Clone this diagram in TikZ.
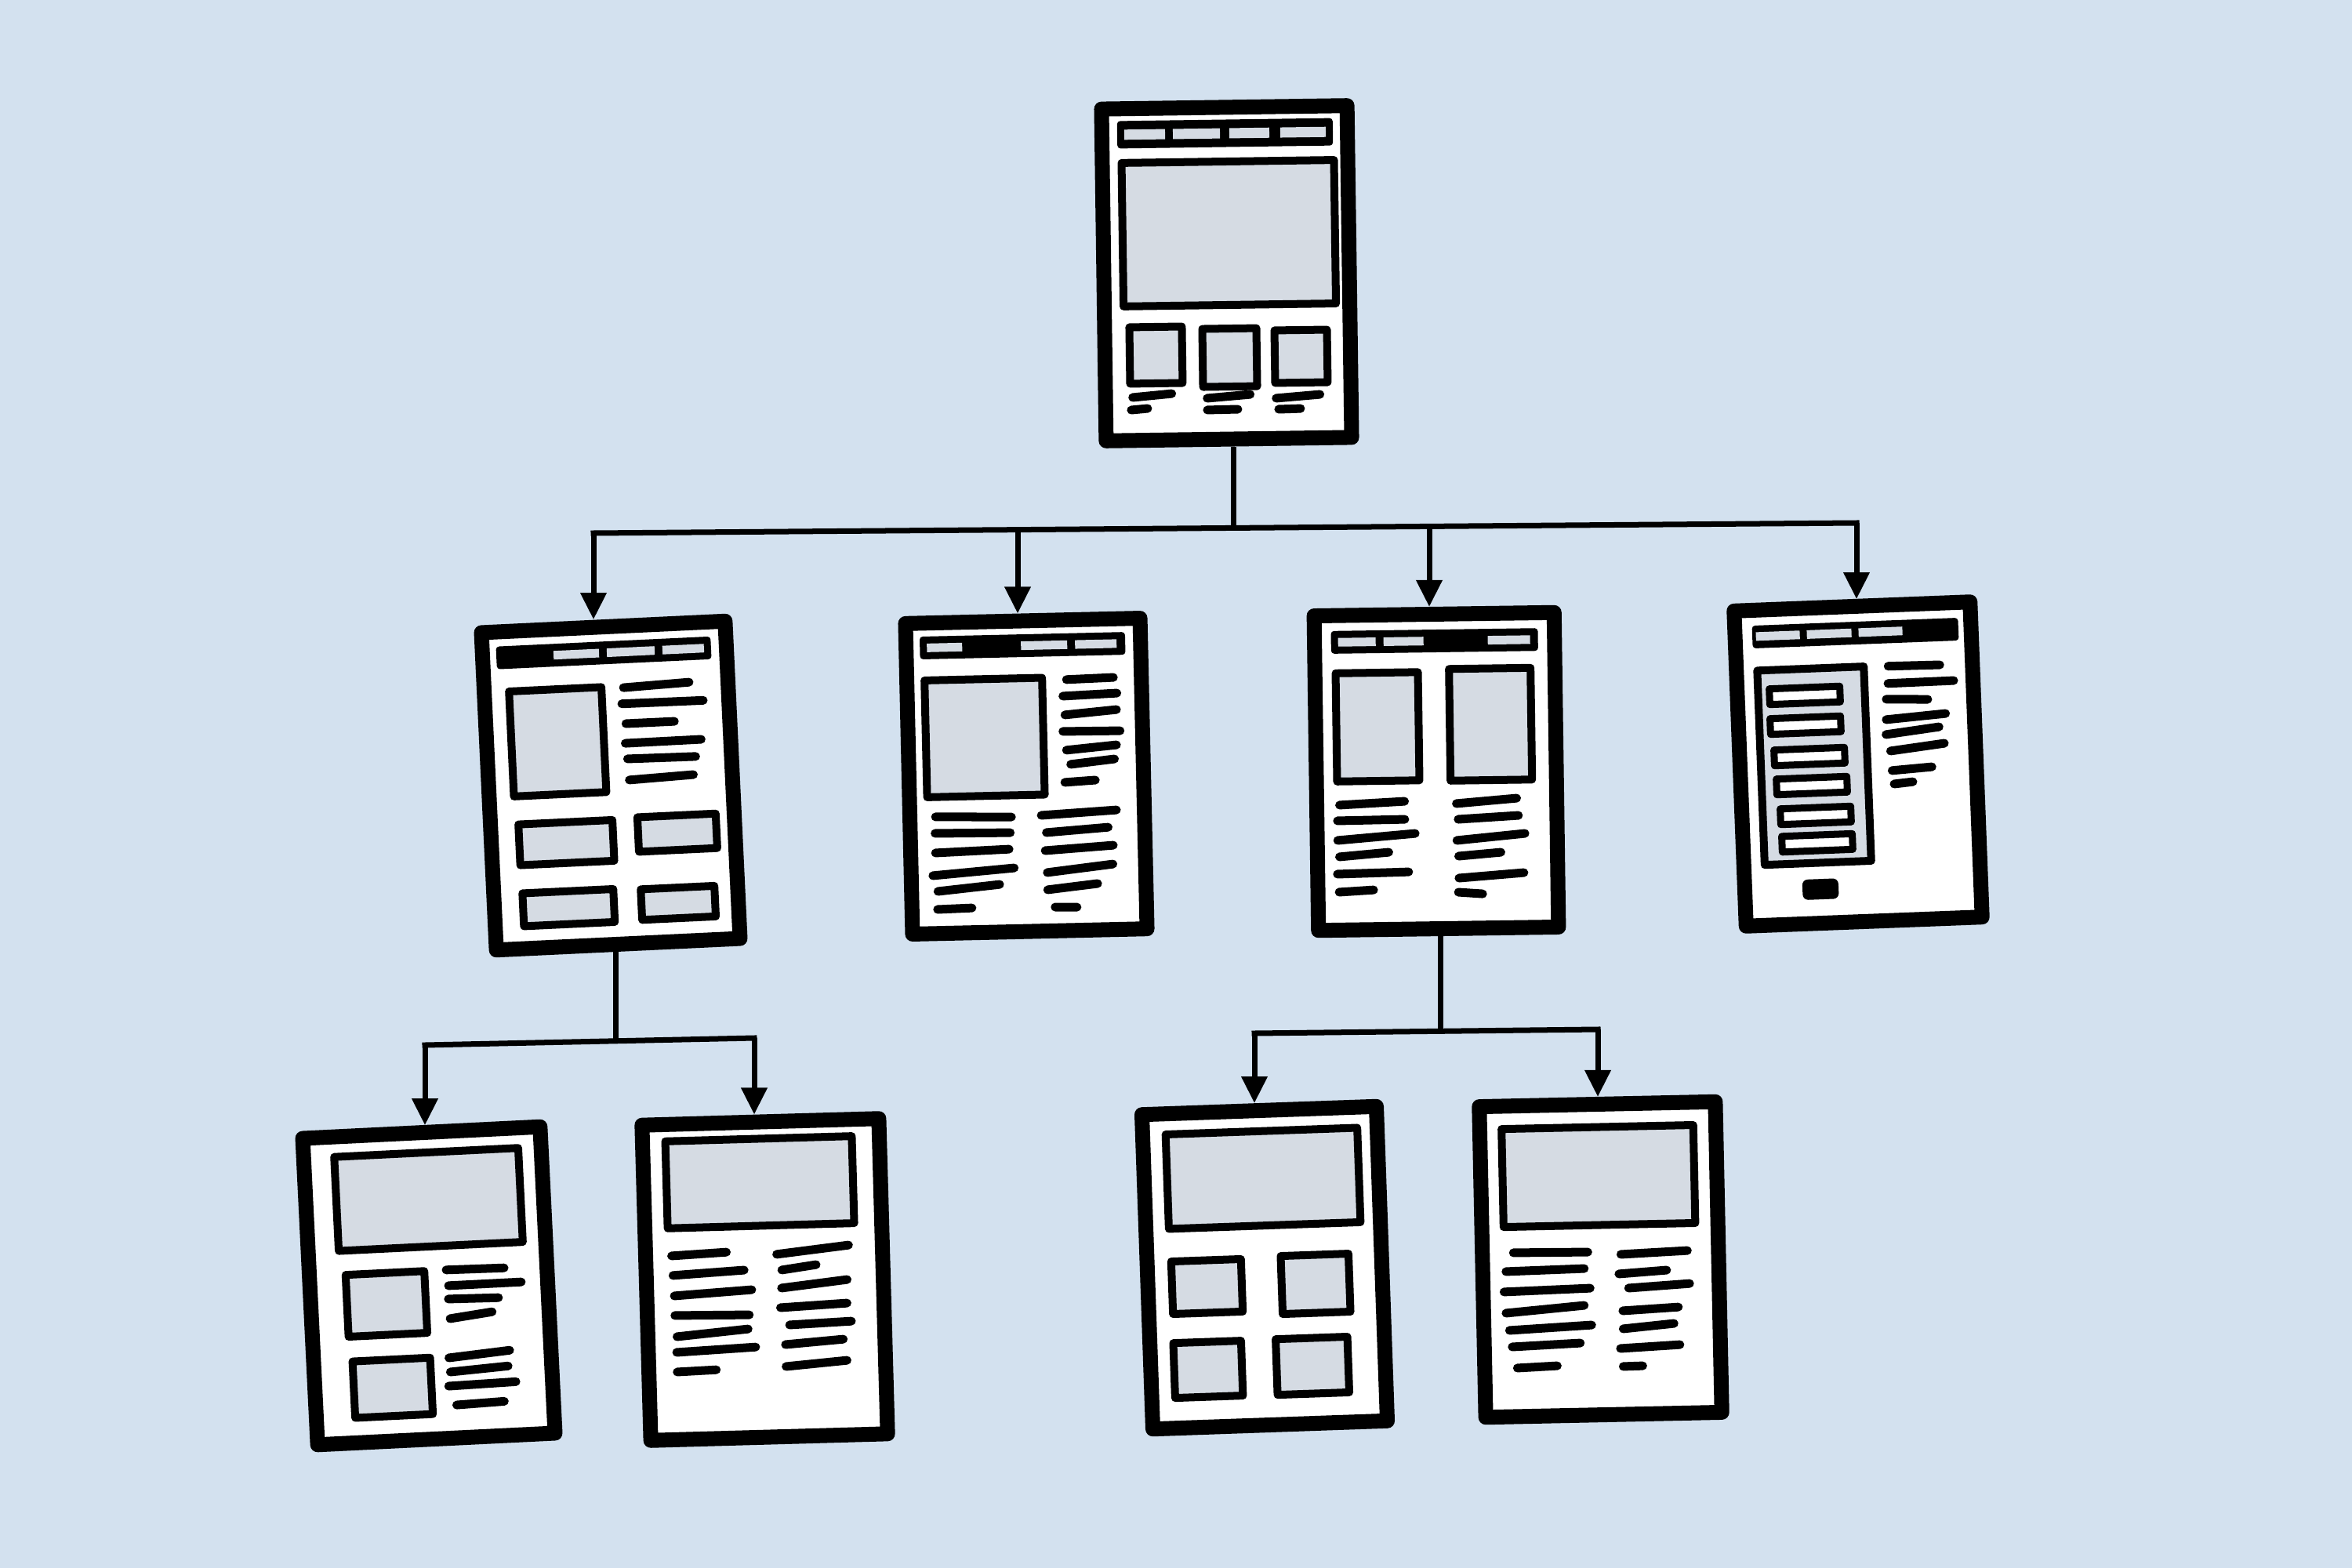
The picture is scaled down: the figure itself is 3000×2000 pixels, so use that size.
\documentclass[tikz,border=0pt]{standalone}
\usetikzlibrary{arrows.meta}
\definecolor{bg}{RGB}{211,225,239}
\definecolor{boxgray}{RGB}{213,219,227}
\begin{document}
\begin{tikzpicture}[x=0.01cm,y=-0.01cm,
  page/.style={draw=black, fill=white, line width=0.19cm, line join=round, rectangle, inner sep=0pt},
  gbox/.style={draw=black, fill=boxgray, line width=0.1cm, line join=round},
  wbox/.style={draw=black, fill=white, line width=0.09cm, line join=round},
  tl/.style={line width=0.11cm, line cap=round},
  conn/.style={line width=0.07cm},
  arr/.style={conn, -{Triangle[length=0.34cm,width=0.32cm]}}]

\fill[bg] (0,0) rectangle (3000,2000);
\useasboundingbox (0,0) rectangle (3000,2000);

% ---------- pages ----------
\node[page, minimum width=3.13cm, minimum height=4.23cm, rotate=0.8] (p0) at (1564.5,348.5) {};
\node[page, minimum width=3.11cm, minimum height=4.05cm, rotate=2.7] (p1) at (779,1002) {};
\node[page, minimum width=2.99cm, minimum height=3.96cm, rotate=1.3] (p2) at (1309,990) {};
\node[page, minimum width=3.06cm, minimum height=4.01cm, rotate=0.8] (p3) at (1832,984) {};
\node[page, minimum width=3.01cm, minimum height=4.02cm, rotate=2.2] (p4) at (2370,974.5) {};
\node[page, minimum width=3.03cm, minimum height=3.91cm, rotate=2.8] (p5) at (547,1640) {};
\node[page, minimum width=3.02cm, minimum height=4.02cm, rotate=1.6] (p6) at (975.5,1632) {};
\node[page, minimum width=2.99cm, minimum height=4.01cm, rotate=2.0] (p7) at (1613,1617) {};
\node[page, minimum width=3.01cm, minimum height=3.96cm, rotate=1.2] (p8) at (2041.5,1606.5) {};

% ---------- page 0 (home) ----------
\begin{scope}[shift={(p0.center)}, rotate=0.8]
  \fill[rounded corners=0.04cm] (-137,-196) rectangle (138,-161);
  \foreach \a/\b in {-128/-76,-66/-6,6/57,71/129} \fill[boxgray] (\a,-185) rectangle (\b,-172);
  \draw[gbox] (-132,-142.5) rectangle (139,40.5);
  \draw[gbox] (-125,67.2) rectangle (-58,139.2);
  \draw[gbox] (-32,70.6) rectangle (37,144.6);
  \draw[gbox] (60,73.8) rectangle (127,140.8);
  \foreach \a/\b/\c/\d in {-122/156.8/-72/152.6, -124/172.8/-103/171.1,
     -27/159.1/28/155, -27/174.1/12/173.7, 61/160.3/117/156.2, 64/174.4/92/173.9}
     \draw[tl] (\a,\b) -- (\c,\d);
\end{scope}

% ---------- page 1 ----------
\begin{scope}[shift={(p1.center)}, rotate=2.7]
  \fill[rounded corners=0.04cm] (-138,-184) rectangle (136,-155);
  \foreach \a/\b in {-65/-7,3/64,74/127} \fill[boxgray] (\a,-175) rectangle (\b,-164);
  \draw[gbox] (-124,-126) rectangle (-6,8);
  \foreach \a/\b/\c/\d in {22/-124/106/-127, 19/-103.5/123/-103, 23/-78/85/-78,
     21/-53/118/-53.5, 23/-33/110/-32, 24/-6/106/-9}
     \draw[tl] (\a,\b) -- (\c,\d);
  \draw[gbox] (-120,44) rectangle (0,96);
  \draw[gbox] (32,42) rectangle (132,86);
  \draw[gbox] (-119,132) rectangle (-3,174);
  \draw[gbox] (32,134) rectangle (126,173);
\end{scope}

% ---------- page 2 ----------
\begin{scope}[shift={(p2.center)}, rotate=1.3]
  \fill[rounded corners=0.04cm] (-132,-181) rectangle (130,-152);
  \foreach \a/\b in {-123/-78,-3/56,66/119} \fill[boxgray] (\a,-172) rectangle (\b,-161);
  \draw[gbox] (-127,-125) rectangle (23,24);
  \foreach \a/\b/\c/\d in {54/-122/114/-123.4, 49/-101/118/-103.3, 51/-77/117/-82.3,
     48/-56/121/-55.2, 52/-32/116/-37.3, 57/-13.8/113/-19.4, 49/9/88/7,
     -117/49.3/-20/51.6, -118/70.3/-22/71.6, -118/95.3/-24/92.6, -122/124.2/-18/116.7,
     -116/144.4/-37/137.3, -117/167.4/-73/166.5,
     18/50.4/114/45.7, 24/72.5/103/67.5, 22/95.5/109/90.6, 24/123.5/108/114.6,
     24/145.5/88/139, 33/167.8/61/168.5}
     \draw[tl] (\a,\b) -- (\c,\d);
\end{scope}

% ---------- page 3 ----------
\begin{scope}[shift={(p3.center)}, rotate=0.8]
  \fill[rounded corners=0.04cm] (-132,-181) rectangle (132,-152);
  \foreach \a/\b in {-123/-75,-65/-14,68/122} \fill[boxgray] (\a,-172) rectangle (\b,-161);
  \draw[gbox] (-126.7,-127) rectangle (-21.7,11);
  \draw[gbox] (18,-130.5) rectangle (122,12);
  \foreach \a/\b/\c/\d in {-124/41.2/-41/37.5, -127/61.2/-41/60.5, -127/86.2/-28/78.7,
     -125/107.2/-62/102.2, -128/129.2/-37/127.6, -126/152.2/-82/150,
     25/41.3/102/35.5, 27/61.4/104/57.5, 25/88.3/112/80.6, 27/108.4/81/104.2,
     27/136.4/110/130.6, 26/154.4/57/156.9}
     \draw[tl] (\a,\b) -- (\c,\d);
\end{scope}

% ---------- page 4 ----------
\begin{scope}[shift={(p4.center)}, rotate=2.2]
  \fill[rounded corners=0.04cm] (-128.6,-181.5) rectangle (134.4,-152.5);
  \foreach \a/\b in {-124/-68,-59/-2,7/63} \fill[boxgray] (\a,-173) rectangle (\b,-162);
  \draw[gbox] (-124,-124) rectangle (12,124);
  \foreach \u/\v in {-64.6/-90.1, -65.1/-52.1, -61.6/-11.9, -60/25.2, -56.5/63.4, -55.9/98.5}
     \draw[wbox] (\u-45,\v-10) rectangle (\u+45,\v+10);
  \fill[rounded corners=0.07cm] (-77,144.7) rectangle (-31,170.7);
  \foreach \a/\b/\c/\d in {43/-123.2/109/-122.4, 42/-101.2/126/-101.7, 39/-81.2/92/-79,
     38/-55.2/114/-60.1, 37/-36.2/105/-43.4, 42/-15/111/-22.2, 43/10/94/7.2, 45/27.2/69/25.3}
     \draw[tl] (\a,\b) -- (\c,\d);
\end{scope}

% ---------- page 5 ----------
\begin{scope}[shift={(p5.center)}, rotate=2.8]
  \draw[gbox] (-112.6,-170) rectangle (122.4,-50);
  \draw[gbox] (-105.4,-19) rectangle (-4.9,59.9);
  \draw[gbox] (-102,91.7) rectangle (-2.9,163.7);
  \foreach \a/\b/\c/\d in {23/-19.1/97/-18.1, 25/1.1/118/0.9, 24/18.1/88/19.5, 25/43.2/79/37.1,
     21/93.1/99/87.2, 22/111.2/96/107.1, 19/129.1/105/127.6, 28/153.6/89/151.9}
     \draw[tl] (\a,\b) -- (\c,\d);
\end{scope}

% ---------- page 6 ----------
\begin{scope}[shift={(p6.center)}, rotate=1.6]
  \draw[gbox] (-122,-179.7) rectangle (116,-68.7);
  \foreach \a/\b/\c/\d in {-118/-33.4/-48/-36.2, -117/-8.4/-26/-12.7, -116/17.7/-17/12.6,
     -116/42.7/-21/44.5, -114/69.8/-23/62.5, -115/89.8/-14/85.8, -115/114.8/-65/113.4,
     16/-31.7/108/-40.9, 22/-11.5/66/-17.1, 21/11.5/105/3, 19/36.5/104/33,
     30/58.8/109/56.2, 24/83.7/98/78.9, 24/111.7/102/106}
     \draw[tl] (\a,\b) -- (\c,\d);
\end{scope}

% ---------- page 7 ----------
\begin{scope}[shift={(p7.center)}, rotate=2.0]
  \draw[gbox] (-120.3,-174.3) rectangle (124.3,-53.8);
  \draw[gbox] (-118.8,-12.1) rectangle (-29.8,54.9);
  \draw[gbox] (21,-14.2) rectangle (107.5,59.8);
  \draw[gbox] (-119.8,92) rectangle (-33.3,162);
  \draw[gbox] (10.9,91.6) rectangle (102.4,162.6);
\end{scope}

% ---------- page 8 ----------
\begin{scope}[shift={(p8.center)}, rotate=1.2]
  \draw[gbox] (-122.8,-169) rectangle (121.8,-44);
  \foreach \a/\b/\c/\d in {-111/-10.9/-16/-9.8, -121/12.9/-21/11.1, -124/38.8/-14/36.3,
     -122/65.9/-22/58.1, -118/88/-13/83.3, -115/109.1/-28/106, -109/136.2/-58/134.4,
     26/-6/111/-9.1, 23/18.9/84/15.3, 35/37.2/113/33, 27/66/98/62.7,
     27/89/92/83.5, 23/114/99/110.7, 26/137/51/136.7}
     \draw[tl] (\a,\b) -- (\c,\d);
\end{scope}

% ---------- connectors ----------
\coordinate (j0) at (1573,673);
\coordinate (c1) at (757,680);
\coordinate (c2) at (1298,676);
\coordinate (c3) at (1823,672);
\coordinate (c4) at (2368,667);
\draw[conn] (p0.south -| j0) -- (j0);
\draw[conn, line cap=rect] (c1) -- (c4);
\draw[arr] (c1) -- (c1 |- p1.north);
\draw[arr] (c2) -- (c2 |- p2.north);
\draw[arr] (c3) -- (c3 |- p3.north);
\draw[arr] (c4) -- (c4 |- p4.north);

\coordinate (j1) at (785,1328);
\coordinate (c5) at (542,1333);
\coordinate (c6) at (962,1324);
\draw[conn] (p1.south -| j1) -- (j1);
\draw[conn, line cap=rect] (c5) -- (c6);
\draw[arr] (c5) -- (c5 |- p5.north);
\draw[arr] (c6) -- (c6 |- p6.north);

\coordinate (j3) at (1837,1315);
\coordinate (c7) at (1600,1318);
\coordinate (c8) at (2038,1313);
\draw[conn] (p3.south -| j3) -- (j3);
\draw[conn, line cap=rect] (c7) -- (c8);
\draw[arr] (c7) -- (c7 |- p7.north);
\draw[arr] (c8) -- (c8 |- p8.north);
\end{tikzpicture}
\end{document}
